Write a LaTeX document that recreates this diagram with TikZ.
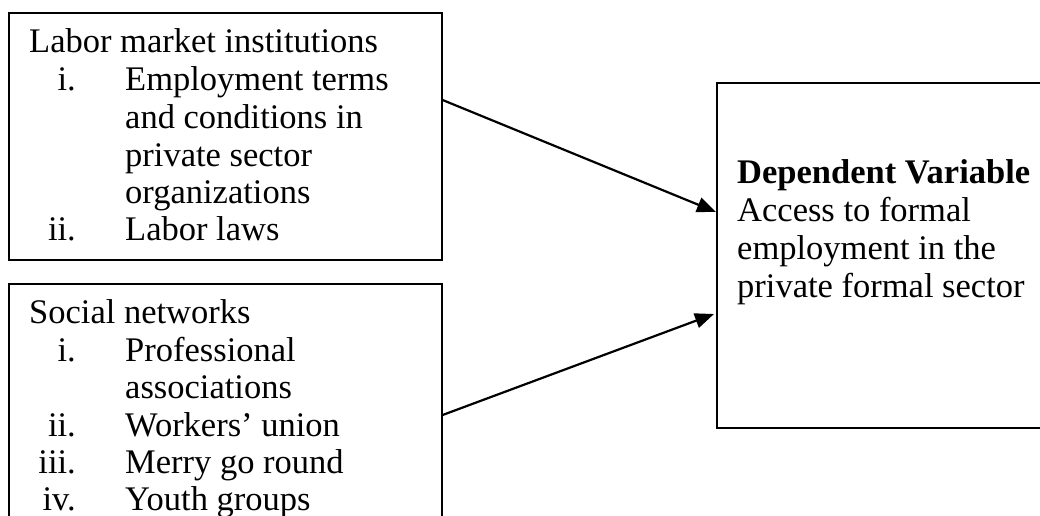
\documentclass[tikz,border=0pt]{standalone}
\usepackage{fontspec}
\setmainfont{Liberation Serif}
\usetikzlibrary{arrows.meta}
\begin{document}
\begin{tikzpicture}[x=1pt,y=1pt,
  box/.style={draw=black, line width=1.6pt, fill=none, inner sep=0pt, anchor=north west},
  txt/.style={inner sep=0pt, anchor=base west, font=\fontsize{34.5}{38}\selectfont},
  lbl/.style={inner sep=0pt, anchor=base east, font=\fontsize{34.5}{38}\selectfont},
  arr/.style={line width=2.2pt, -{Triangle[length=19pt,width=15pt]}}]
\fill[white] (0,0) rectangle (1040,-515);
\useasboundingbox (0,0) rectangle (1040,-515);
\clip (0,0) rectangle (1040,-515);
% boxes
\node[box, minimum width=433pt, minimum height=247pt] (b1) at (8,-12) {};
\node[box, minimum width=433pt, minimum height=270pt] (b2) at (8,-283) {};
\node[box, minimum width=330pt, minimum height=345pt] (dv) at (716,-82) {};
% box 1 text
\node[txt] (h1) at (29,-52) {Labor market institutions};
\node[lbl] (l1a) at (76,-90) {i.};
\node[txt] (t1a) at (125,-90) {Employment terms};
\node[txt] (t1b) at (125,-128) {and conditions in};
\node[txt] (t1c) at (125,-166) {private sector};
\node[txt] (t1d) at (125,-203) {organizations};
\node[lbl] (l1b) at (76,-240) {ii.};
\node[txt] (t1e) at (125,-240) {Labor laws};
% box 2 text
\node[txt] (h2) at (29,-323) {Social networks};
\node[lbl] (l2a) at (76,-361) {i.};
\node[txt] (t2a) at (125,-361) {Professional};
\node[txt] (t2b) at (125,-398) {associations};
\node[lbl] (l2b) at (76,-436) {ii.};
\node[txt] (t2c) at (125,-436) {Workers’ union};
\node[lbl] (l2c) at (76,-473) {iii.};
\node[txt] (t2d) at (125,-473) {Merry go round};
\node[lbl] (l2d) at (76,-510) {iv.};
\node[txt] (t2e) at (125,-510) {Youth groups};
% dependent variable text
\node[txt] (d1) at (737,-183) {\textbf{Dependent Variable}};
\node[txt] (d2) at (737,-221) {Access to formal};
\node[txt] (d3) at (737,-259) {employment in the};
\node[txt] (d4) at (737,-297) {private formal sector};
% arrows
\draw[arr] ([yshift=-88pt]b1.north east) -- ([yshift=-130pt]dv.north west);
\draw[arr] ([yshift=-132pt]b2.north east) -- ([xshift=-2pt,yshift=-232pt]dv.north west);
\end{tikzpicture}
\end{document}
